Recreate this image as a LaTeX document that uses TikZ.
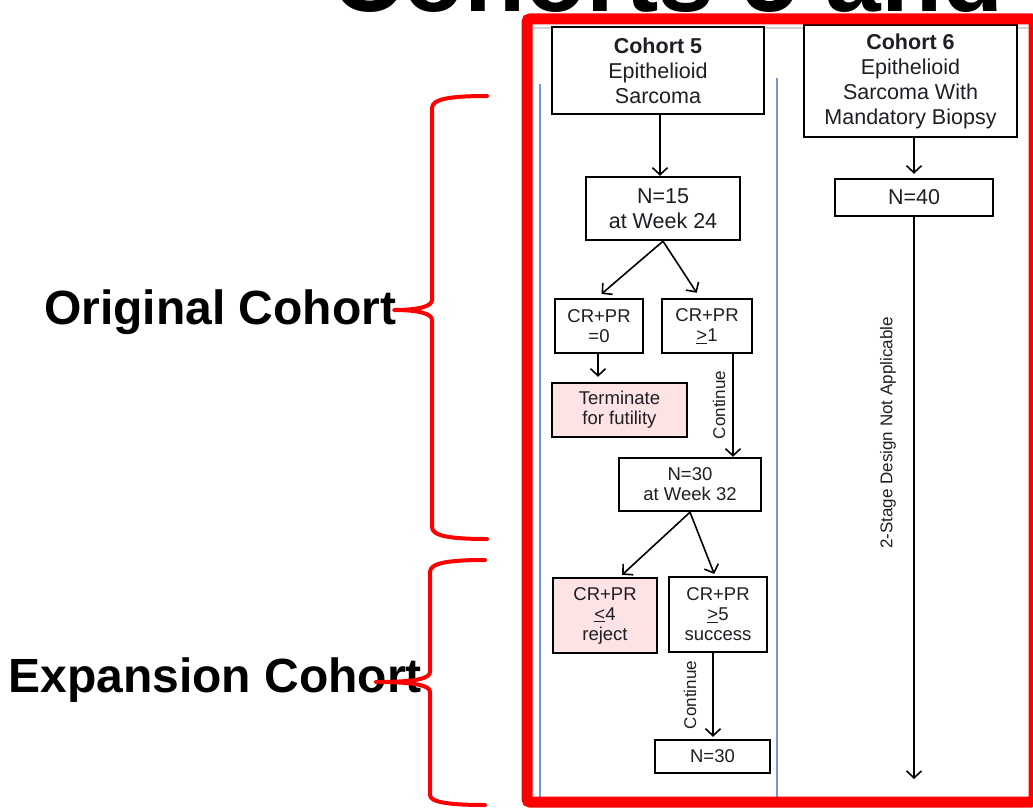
\documentclass[tikz,border=0pt]{standalone}
\usepackage{fontspec}
\setmainfont{Liberation Sans}
\usetikzlibrary{arrows.meta,calc}
\definecolor{framered}{HTML}{FF0000}
\definecolor{pinkfill}{HTML}{FDE3E3}
\definecolor{lineblue}{HTML}{6E99D2}
\definecolor{txt}{HTML}{1E1E24}
\begin{document}
\begin{tikzpicture}[x=1pt,y=-1pt,
  box/.style={draw=black, line width=2.4pt, fill=white, inner sep=0pt, align=center, text=txt},
  bigbox/.style={box, font=\fontsize{21.5}{25}\selectfont},
  smallbox/.style={box, font=\fontsize{18.5}{20}\selectfont},
  pinkbox/.style={smallbox, fill=pinkfill},
  arr/.style={draw=black, line width=1.6pt, -{Straight Barb[length=7pt,width=15pt,line width=1.6pt]}},
  vlabel/.style={rotate=90, font=\fontsize{17}{20}\selectfont, text=txt, inner sep=0pt},
  brace/.style={draw=framered, line width=4pt, line cap=round, line join=round},
  sidelabel/.style={font=\fontsize{48}{52}\selectfont\bfseries, text=black, inner sep=0pt},
  divider/.style={draw=lineblue, line width=2pt}]
\useasboundingbox (0,0) rectangle (1033,808);
\clip (0,0) rectangle (1033,808);

% cut-off title
\node[anchor=base west, font=\fontsize{100}{100}\selectfont\bfseries, inner sep=0pt] (title) at (331,12) {Cohorts 5 and 6};

% blue dividers
\draw[divider] (540,84) -- (540,800);
\draw[divider] (777,78) -- (777,800);
\draw[gray!35, line width=2pt] (533,28) -- (1028,28);

% cohort 5 column
\node[bigbox, minimum width=212pt, minimum height=87pt] (c5) at (658,70.5) {\textbf{Cohort 5}\\Epithelioid\\Sarcoma};
\node[bigbox, minimum width=154pt, minimum height=63pt] (n15) at (663,208.5) {N=15\\at Week 24};
\node[smallbox, minimum width=88pt, minimum height=54pt] (z0) at (599,326) {CR+PR\\=0};
\node[smallbox, minimum width=90pt, minimum height=54pt] (g1) at (707,326) {CR+PR\\\underline{>}1};
\node[pinkbox, minimum width=135pt, minimum height=54pt] (term) at (619.5,410) {Terminate\\for futility};
\node[smallbox, minimum width=142pt, minimum height=53pt] (n30) at (690,484.5) {N=30\\at Week 32};
\node[pinkbox, minimum width=104pt, minimum height=75pt] (rej) at (605,615.5) {CR+PR\\\underline{<}4\\reject};
\node[smallbox, minimum width=98pt, minimum height=75pt] (suc) at (718,614.5) {CR+PR\\\underline{>}5\\success};
\node[smallbox, minimum width=115pt, minimum height=33pt] (n30b) at (712.5,756.5) {N=30};

\draw[arr] ([xshift=2pt]c5.south) -- ([xshift=2pt]c5.south |- n15.north);
\draw[arr, shorten >=6pt] (n15.south) -- ([xshift=-2pt]z0.north);
\draw[arr, shorten >=6pt] (n15.south) -- ([xshift=-7pt]g1.north);
\draw[arr, shorten >=5pt] ([xshift=-1pt]z0.south) -- ([xshift=-1pt]z0.south |- term.north);
\draw[arr] ([xshift=26pt]g1.south) -- ([xshift=26pt]g1.south |- n30.north);
\node[vlabel] (cont1) at (719,405) {Continue};
\draw[arr, shorten >=3pt] (n30.south) -- ([xshift=15pt]rej.north);
\draw[arr, shorten >=2pt] (n30.south) -- ([xshift=-3pt]suc.north);
\draw[arr, shorten >=2pt] ([xshift=-5pt]suc.south) -- ([xshift=-5pt]suc.south |- n30b.north);
\node[vlabel] (cont2) at (690,695) {Continue};

% cohort 6 column
\node[bigbox, minimum width=213pt, minimum height=112pt] (c6) at (910.5,81) {\textbf{Cohort 6}\\Epithelioid\\Sarcoma With\\Mandatory Biopsy};
\node[bigbox, minimum width=158pt, minimum height=37pt] (n40) at (914,197.5) {N=40};
\coordinate (n40end) at (914,779);
\draw[arr, shorten >=4pt] (n40.north |- c6.south) -- (n40.north);
\draw[arr] (n40.south) -- (n40end);
\node[vlabel] (nolabel) at (888,433) {2-Stage Design Not Applicable};

% red frame
\draw[framered, line width=11pt, rounded corners=3pt] (527,19) rectangle (1034,802);

% braces and side labels
\node[sidelabel] (orig) at (220,312) {Original Cohort};
\node[sidelabel] (exp) at (215,680) {Expansion Cohort};
\draw[brace] (487,96) .. controls (450,96) and (432,99) .. (432,108) -- (432,300)
  .. controls (432,306) and (420,310) .. (394,310)
  .. controls (420,310) and (432,314) .. (432,320) -- (432,527)
  .. controls (432,536) and (450,539) .. (487,539);
\draw[brace] (485,560) .. controls (448,560) and (430,563) .. (430,572) -- (430,672)
  .. controls (430,678) and (418,682) .. (376,682)
  .. controls (418,682) and (430,686) .. (430,692) -- (430,795)
  .. controls (430,802) and (448,805) .. (485,805);
\end{tikzpicture}
\end{document}
